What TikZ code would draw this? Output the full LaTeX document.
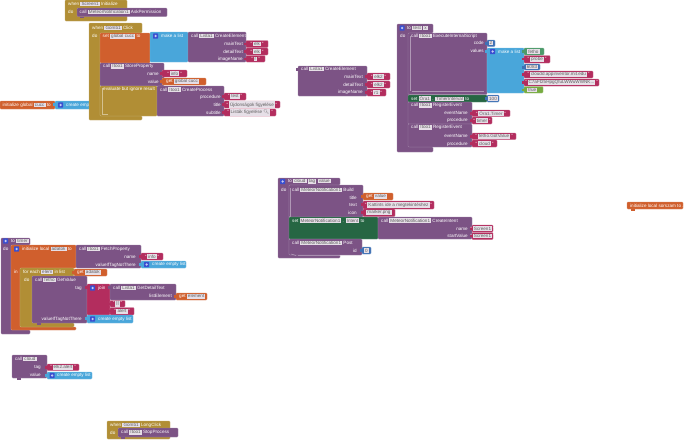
\documentclass[tikz,border=0pt]{standalone}
\usepackage{fontspec}
\setmainfont{Liberation Sans}
\newfontfamily\emojifont{Noto Emoji}
\definecolor{cpur}{HTML}{7C5385}
\definecolor{cgold}{HTML}{B18E35}
\definecolor{cora}{HTML}{D05F2D}
\definecolor{cblu}{HTML}{49A6DA}
\definecolor{cgrn}{HTML}{266643}
\definecolor{ccri}{HTML}{B32D5E}
\definecolor{clog}{HTML}{77AB41}
\definecolor{cmat}{HTML}{3F71B5}
\definecolor{cfet}{HTML}{4C9A6A}
\definecolor{cico}{HTML}{3A4FD0}
\definecolor{cfld}{HTML}{E6DFE7}
\definecolor{ctxt}{HTML}{5E5E5E}
\tikzset{x=1pt,y=-1pt,
  blockshape/.style={rounded corners=0.8pt,draw=#1!70!white,line width=0.35pt,fill=#1},
  lab/.style={text=white,inner sep=0pt,font=\fontsize{4.6}{5}\selectfont},
  rowlab/.style={lab,anchor=east},
  headlab/.style={lab,anchor=west}}
\setlength{\fboxsep}{0.6pt}
\newcommand{\fd}[1]{\colorbox{cfld}{\textcolor{ctxt}{\kern0.5pt#1\kern0.5pt}}}
\newcommand{\bk}[5]{\path[blockshape=#1] (#2,#3) rectangle (#4,#5);}
% value block: rectangle plus a small puzzle tab on its left side
\newcommand{\vb}[5]{\path[blockshape=#1] (#2,#3) rectangle (#4,#5);
  \path[fill=#1] (#2-1.6,{#3+2}) rectangle (#2+0.5,{#3+4.6});}
% statement tab under a block
\newcommand{\tb}[3]{\path[fill=#1] (#2,#3) rectangle (#2+4,#3+1.5);}
\newcommand{\hd}[3]{\node[headlab] at (#1,#2) {#3};}
\newcommand{\rw}[3]{\node[rowlab] at (#1,#2) {#3};}
\newcommand{\st}[5]{\vb{ccri}{#1}{#2}{#3}{#4}
  \node[lab,align=center] at ({(#1+#3)/2},{(#2+#4)/2}) {\textquotedbl\,\fd{#5}\,\textquotedbl};}
\newcommand{\ic}[2]{\path[fill=cico,rounded corners=0.6pt] (#1,{#2-2.6}) rectangle (#1+5.2,{#2+2.6});
  \path[fill=white!70!cico] (#1+2.6,#2) circle (1.3pt);}
\begin{document}
\begin{tikzpicture}
\useasboundingbox (0,0) rectangle (689,440);
\fill[white] (0,0) rectangle (689,440);

% when Screen1.Initialize
\bk{cgold}{65}{0}{127}{21}
\hd{68}{4}{when \fd{Screen1} Initialize}
\hd{68}{12}{do}
\bk{cpur}{77}{8}{167}{16.5}
\tb{cpur}{80}{16.5}
\hd{79.5}{12}{call \fd{MeteorNotification1} AskPermission}

% initialize global cucc
\bk{cora}{0}{101}{55}{109}
\hd{2.5}{105}{initialize global \fd{cucc} to}
\vb{cblu}{55}{101}{92}{109}
\ic{58}{105}
\hd{66}{105}{create empty}

% when Gomb1.Click
\path[blockshape=cgold] (89,23) -- (142,23) -- (142,33) -- (100,33) -- (100,116) -- (142,116) -- (142,120) -- (89,120) -- cycle;
\hd{92}{28}{when \fd{Gomb1} Click}
\hd{92}{36}{do}
\bk{cora}{100}{33}{150}{63}
\hd{102.5}{36.5}{set \fd{global cucc} to}
\bk{cblu}{150}{32}{188}{62}
\ic{153}{36}
\hd{161}{36}{make a list}
\bk{cpur}{188}{32}{246}{62}
\hd{191}{36}{call \fd{Lista1} CreateElement}
\rw{243}{44}{mainText}
\rw{243}{51.5}{detailText}
\rw{243}{59}{imageName}
\st{246}{40.5}{268}{47.5}{elk}
\st{246}{48}{268}{55}{elk}
\st{246}{55.5}{265}{62}{r}
\bk{cpur}{100}{63}{164}{86}
\hd{103}{66.5}{call \fd{Itoo1} StoreProperty}
\rw{159}{74}{name}
\rw{159}{82}{value}
\st{162}{70}{187}{77}{info}
\vb{cora}{162}{78}{206}{85}
\hd{166}{81.5}{get \fd{global cucc}}
\bk{cgold}{100}{86}{157}{116}
\path[draw=white!45!cgold,line width=0.4pt] (102.5,88) -- (102.5,114) -- (108,114);
\hd{103}{89.5}{evaluate but ignore result}
\bk{cpur}{157}{86}{224}{116}
\hd{160}{89.5}{call \fd{Itoo1} CreateProcess}
\rw{221}{97}{procedure}
\rw{221}{105}{title}
\rw{221}{112.5}{subtitle}
\st{224}{93}{246}{100}{test}
\st{224}{101}{280}{108}{Újdonságok figyelése}
\st{224}{109}{276}{116}{Listák figyelése {\emojifont 🔍}}

% free Lista1 call
\vb{cpur}{298}{66}{367}{96}
\hd{301}{69}{call \fd{Lista1} CreateElement}
\rw{363}{77}{mainText}
\rw{363}{84.5}{detailText}
\rw{363}{92}{imageName}
\st{367}{73}{390}{80}{elk2}
\st{367}{81}{390}{88}{elk2}
\st{367}{89}{386}{96}{r1}

% to test
\path[blockshape=cpur] (397,24) -- (433,24) -- (433,33) -- (409,33) -- (409,147) -- (433,147) -- (433,152) -- (397,152) -- cycle;
\ic{399.5}{28}
\hd{407}{28}{to \fd{test} \fd{x}}
\hd{400}{36}{do}
\bk{cpur}{408}{33}{487}{94.5}
\path[draw=white!40!cpur,line width=0.4pt] (410,36) -- (410,91) (484,91) -- (412,91);
\hd{411}{36}{call \fd{Itoo1} ExecuteInternalScript}
\rw{484}{43}{code}
\rw{484}{51}{values}
\vb{cmat}{487}{40}{495}{46.5}
\node[lab] at (491,43.2) {\fd{2}};
\vb{cblu}{487}{48}{524}{93}
\ic{490}{51.5}
\hd{498}{51.5}{make a list}
\vb{cfet}{524}{48}{544}{55}
\hd{527}{51.5}{\fd{fetho}}
\st{524}{55.5}{550}{63}{probe}
\vb{cmat}{524}{64}{540}{70}
\node[lab] at (532,67) {\fd{6083}};
\st{524}{71}{593}{78}{cloudd.appinventor.mit.edu}
\st{524}{79}{599}{86}{C7aFt25HpgQfuLWWuWWNK...}
\vb{clog}{524}{86.5}{543}{93}
\hd{527}{89.7}{\fd{true}}
\bk{cgrn}{408}{95}{487}{102}
\hd{411}{98.5}{set \fd{Óra1} . \fd{TimerInterval} to}
\vb{cmat}{487}{95}{499}{102}
\node[lab] at (493,98.5) {\fd{100}};
\bk{cpur}{408}{102}{472}{124}
\hd{411}{105.5}{call \fd{Itoo1} RegisterEvent}
\rw{468}{113}{eventName}
\rw{468}{120.5}{procedure}
\st{472}{110}{510}{116.5}{Óra1.Timer}
\st{472}{117}{492}{124}{timer}
\bk{cpur}{408}{124}{472}{147}
\hd{411}{127.5}{call \fd{Itoo1} RegisterEvent}
\rw{468}{136}{eventName}
\rw{468}{144}{procedure}
\st{472}{133}{516}{139.5}{fetho.GotValue}
\st{472}{140}{497}{147}{cloud}

% to cloud
\path[blockshape=cpur] (278,178) -- (340,178) -- (340,185) -- (289,185) -- (289,255) -- (340,255) -- (340,258) -- (278,258) -- cycle;
\ic{280}{181.5}
\hd{288}{181.5}{to \fd{cloud} \fd{tag} \fd{value}}
\hd{281}{190}{do}
\bk{cpur}{289}{185}{363}{217}
\path[draw=white!40!cpur,line width=0.4pt] (290.5,188) -- (290.5,255);
\hd{292}{190}{call \fd{MeteorNotification1} Build}
\rw{357}{198}{title}
\rw{357}{205}{text}
\rw{357}{213}{icon}
\vb{cora}{363}{193}{393}{200}
\hd{366}{196.5}{get \fd{value}}
\st{363}{201}{434}{209}{Kattints ide a megtekintéshez}
\vb{ccri}{363}{209}{395}{216.5}
\node[lab] at (379,212.7) {\fd{marker.png}};
\bk{cgrn}{289}{217}{378}{239}
\hd{292}{220.5}{set \fd{MeteorNotification1} . \fd{Intent} to}
\bk{cpur}{378}{217}{472}{239}
\hd{381}{220.5}{call \fd{MeteorNotification1} CreateIntent}
\rw{468}{229}{name}
\rw{468}{236}{startValue}
\st{472}{225}{493}{232}{Screen1}
\st{472}{232.5}{493}{239.5}{Screen1}
\bk{cpur}{289}{239}{362}{255}
\hd{292}{243}{call \fd{MeteorNotification1} Post}
\rw{357}{251}{id}
\vb{cmat}{362}{247}{371}{254}
\node[lab] at (366.5,250.5) {\fd{0}};
\path[draw=white!50!cpur,line width=0.5pt] (291,254) -- (296,255.5) (298,255.5) -- (340,255.5);

% far right initialize local
\bk{cora}{627}{202}{683}{209}
\tb{cora}{631}{209}
\hd{630}{205.5}{initialize local sorszam to ..}

% to timer
\path[blockshape=cpur] (1,238) -- (30,238) -- (30,245) -- (11,245) -- (11,330) -- (30,330) -- (30,334) -- (1,334) -- cycle;
\ic{3}{241}
\hd{11}{241}{to \fd{timer}}
\hd{3}{249}{do}
\path[blockshape=cora] (11,245) -- (76,245) -- (76,268) -- (20,268) -- (20,327) -- (76,327) -- (76,330) -- (11,330) -- cycle;
\ic{14}{249}
\hd{22}{249}{initialize local \fd{adatok} to}
\hd{14}{272}{in}
\bk{cpur}{76}{245}{141}{268}
\hd{79}{249}{call \fd{Itoo1} FetchProperty}
\rw{136}{257}{name}
\rw{136}{265}{valueIfTagNotThere}
\st{141}{253}{163}{260}{info}
\vb{cblu}{141}{261}{186}{268}
\ic{144}{264.5}
\hd{152}{264.5}{create empty list}
\path[blockshape=cgold] (20,268) -- (74,268) -- (74,276) -- (32,276) -- (32,323) -- (74,323) -- (74,327) -- (20,327) -- cycle;
\hd{23}{272}{for each \fd{elem} in list}
\vb{cora}{74}{269}{107}{276}
\hd{77}{272.5}{get \fd{adatok}}
\hd{24}{280}{do}
\bk{cpur}{32}{276}{87}{323}
\tb{cpur}{37}{323}
\hd{35}{280}{call \fd{fetho} GetValue}
\rw{82}{288}{tag}
\rw{82}{319}{valueIfTagNotThere}
\vb{ccri}{87}{284}{110}{315}
\ic{90}{288}
\hd{98}{288}{join}
\vb{cpur}{110}{284}{176}{300}
\hd{113}{288}{call \fd{Lista1} GetDetailText}
\rw{172}{296}{listElement}
\vb{cora}{176}{293}{207}{300}
\hd{179}{296.5}{get \fd{element}}
\st{110}{300.5}{125}{307}{||}
\st{110}{307.5}{134}{315}{alert}
\vb{cblu}{87}{315}{133}{323}
\ic{90}{319}
\hd{98}{319}{create empty list}

% call cloud
\bk{cpur}{12}{355}{47}{378}
\tb{cpur}{17}{378}
\hd{15}{359}{call \fd{cloud}}
\rw{41}{367}{tag}
\rw{41}{375}{value}
\st{47}{364}{79}{370.5}{elk2.alert}
\vb{cblu}{47}{372}{92}{379}
\ic{49.5}{375.5}
\hd{57}{375.5}{create empty list}

% when Gomb1.LongClick
\bk{cgold}{107}{421}{170}{439}
\hd{110}{425}{when \fd{Gomb1} LongClick}
\hd{110}{432.5}{do}
\bk{cpur}{118}{428}{178}{437}
\tb{cpur}{121}{437}
\hd{121}{432.5}{call \fd{Itoo1} StopProcess}
\end{tikzpicture}
\end{document}
